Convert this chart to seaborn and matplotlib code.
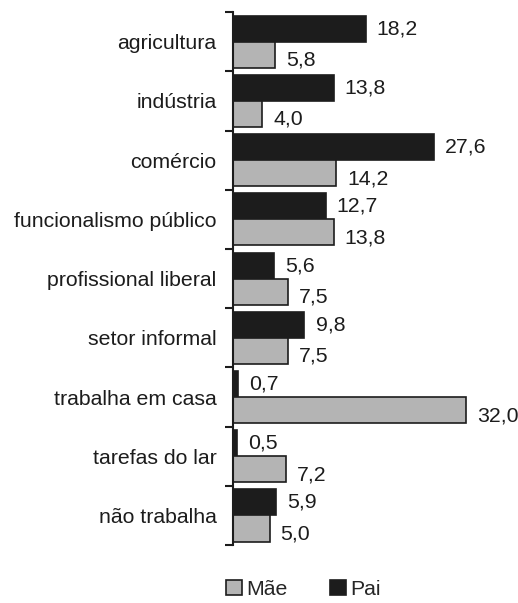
import pandas as pd
import seaborn as sns
import matplotlib.pyplot as plt
from matplotlib.patches import Patch

categorias = ['agricultura', 'indústria', 'comércio', 'funcionalismo público',
              'profissional liberal', 'setor informal', 'trabalha em casa',
              'tarefas do lar', 'não trabalha']
pai = [18.2, 13.8, 27.6, 12.7, 5.6, 9.8, 0.7, 0.5, 5.9]
mae = [5.8, 4.0, 14.2, 13.8, 7.5, 7.5, 32.0, 7.2, 5.0]

cores = {'Pai': '#1c1c1c', 'Mãe': '#b4b4b4'}

df = pd.DataFrame({
    'ocupacao': categorias * 2,
    'valor': pai + mae,
    'genitor': ['Pai'] * len(pai) + ['Mãe'] * len(mae),
})

sns.set_style('white')
plt.rcParams['font.family'] = ['Liberation Sans', 'DejaVu Sans']

fig = plt.figure(figsize=(5.18, 6.03), dpi=100)
ax = fig.add_axes([0.45, 0.096, 0.52, 0.884])

sns.barplot(data=df, y='ocupacao', x='valor', hue='genitor',
            hue_order=['Pai', 'Mãe'], order=categorias, palette=cores,
            orient='h', width=0.88, edgecolor='#1c1c1c', linewidth=1.2,
            legend=False, ax=ax)

# rótulos com vírgula decimal
for cont, dy in zip(ax.containers, [0, -4]):
    for barra in cont:
        w = barra.get_width()
        ax.annotate(f'{w:.1f}'.replace('.', ','),
                    xy=(w, barra.get_y() + barra.get_height() / 2),
                    xytext=(8, dy), textcoords='offset points',
                    ha='left', va='center', fontsize=15.3, color='#1c1c1c')

ax.set_xlim(0, 37)
ax.set_ylim(len(categorias) - 0.5, -0.5)
ax.set_xlabel('')
ax.set_ylabel('')
ax.set_xticks([])
for lado in ['top', 'right', 'bottom']:
    ax.spines[lado].set_visible(False)
ax.spines['left'].set_linewidth(1.5)
ax.spines['left'].set_color('#1c1c1c')

ax.set_yticks(range(len(categorias)))
ax.set_yticklabels(categorias, fontsize=15.3, color='#1c1c1c')
ax.tick_params(axis='y', which='major', left=False, length=0, pad=12)
ax.set_yticks([i - 0.5 for i in range(len(categorias) + 1)], minor=True)
ax.tick_params(axis='y', which='minor', left=True, length=6, width=1.5,
               direction='out', color='#1c1c1c')

handles = [Patch(facecolor=cores['Mãe'], edgecolor='#1c1c1c', linewidth=1.2, label='Mãe'),
           Patch(facecolor=cores['Pai'], edgecolor='#1c1c1c', linewidth=1.2, label='Pai')]
fig.legend(handles=handles, loc='lower left', bbox_to_anchor=(0.40, -0.025),
           ncol=2, frameon=False, fontsize=15.3, handlelength=0.75, handleheight=0.75,
           handletextpad=0.2, columnspacing=2.0)

fig.savefig('out.png', dpi=100)
